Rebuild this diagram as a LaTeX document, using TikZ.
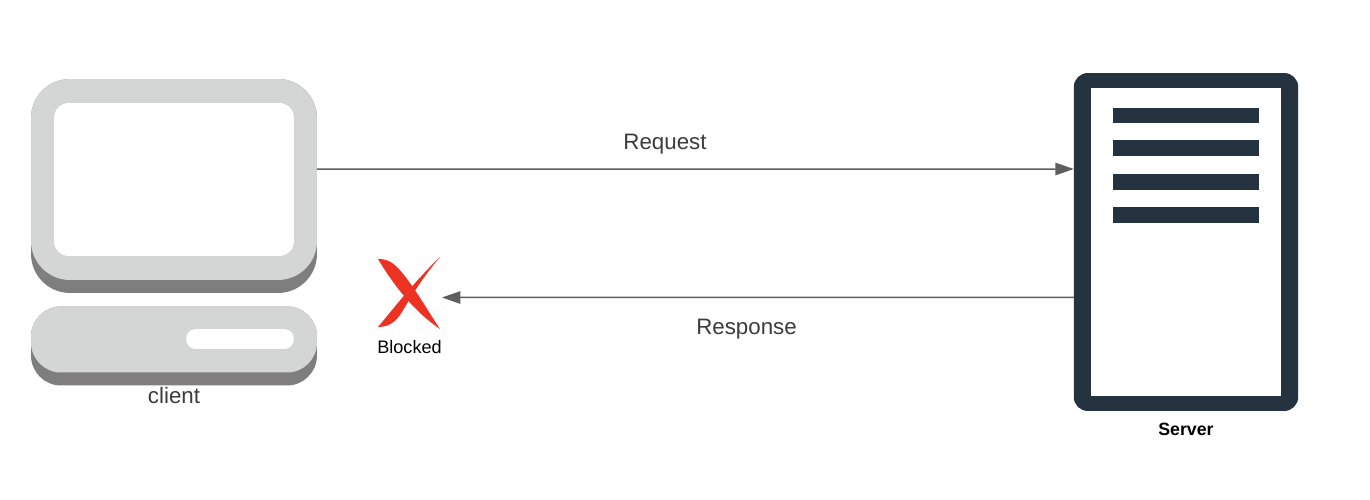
\documentclass[tikz,border=0pt]{standalone}
\usepackage{fontspec}
\setmainfont{Liberation Sans}
\usetikzlibrary{arrows.meta}
\definecolor{casedark}{HTML}{7E7E7E}
\definecolor{caselight}{HTML}{D4D6D5}
\definecolor{servercol}{HTML}{253240}
\definecolor{flowcol}{HTML}{5E5E5E}
\definecolor{blockcol}{HTML}{EB3223}
\definecolor{labelcol}{HTML}{3C3C3C}
\tikzset{
  part/.style={inner sep=0pt,outer sep=0pt},
  plate/.style n args={3}{part,minimum width=#1cm,minimum height=#2cm,rounded corners=#3cm},
  bar/.style={part,fill=servercol,minimum width=2.94cm,minimum height=0.31cm},
  flow/.style={draw=flowcol,line width=0.03cm,-{Triangle[length=0.37cm,width=0.25cm]}},
  biglabel/.style={text=labelcol,font=\fontsize{12.7}{15}\selectfont},
  smalllabel/.style={text=black,font=\fontsize{10.3}{12}\selectfont}
}
\begin{document}
\begin{tikzpicture}[x=0.02cm,y=-0.02cm]
    \useasboundingbox[fill=white] (0,0) rectangle (1370,500);
    % client
    \node[plate={5.72}{4.28}{0.78},fill=casedark] (shadow) at (174,186) {};
    \node[plate={5.72}{4.02}{0.78},fill=caselight] (monitor) at (174,179.5) {};
    \node[plate={4.8}{3.06}{0.3},fill=white] (screen) at (174,179.5) {};
    \node[plate={5.72}{1.58}{0.6},fill=casedark] (deskshadow) at (174,346) {};
    \node[plate={5.72}{1.32}{0.6},fill=caselight] (desk) at (174,339.5) {};
    \node[plate={2.16}{0.4}{0.2},fill=white] (slot) at (240,339) {};
    \node[biglabel] (client) at (174,396) {client};
    % server
    \node[plate={4.49}{6.76}{0.28},fill=servercol] (server) at (1186,242) {};
    \node[part,fill=white,minimum width=3.8cm,minimum height=6.16cm] (rack) at (1186,242) {};
    \node[bar] (bar1) at (1186,115.3) {};
    \node[bar] (bar2) at (1186,148) {};
    \node[bar] (bar3) at (1186,181.8) {};
    \node[bar] (bar4) at (1186,215) {};
    \node[smalllabel,font=\fontsize{10.1}{12}\selectfont\bfseries] (serverlabel) at (1186,429) {Server};
    % blocked mark
    \node[part,minimum width=1.28cm,minimum height=1.46cm] (blocked) at (410,293) {};
    \fill[blockcol] (378,259) .. controls (386,259) and (391,261) .. (398,268)
      .. controls (412,283) and (426,308) .. (440,329)
      .. controls (424,318) and (402,299) .. (378,259) -- cycle;
    \fill[blockcol] (440,257) .. controls (425,275) and (415,290) .. (405,307)
      .. controls (398,319) and (392,327) .. (378,327)
      .. controls (390,313) and (412,284) .. (440,257) -- cycle;
    \node[smalllabel] (blockedlabel) at (409.5,347) {Blocked};
    % messages
    \path[flow] ([yshift=0.21cm]monitor.east) -- ([yshift=1.46cm]server.west);
    \path[flow] ([yshift=-1.11cm]server.west) -- ([yshift=-0.09cm]blocked.east);
    \node[biglabel] (request) at (665,144.5) {Request};
    \node[biglabel] (response) at (746.5,329) {Response};
\end{tikzpicture}
\end{document}
